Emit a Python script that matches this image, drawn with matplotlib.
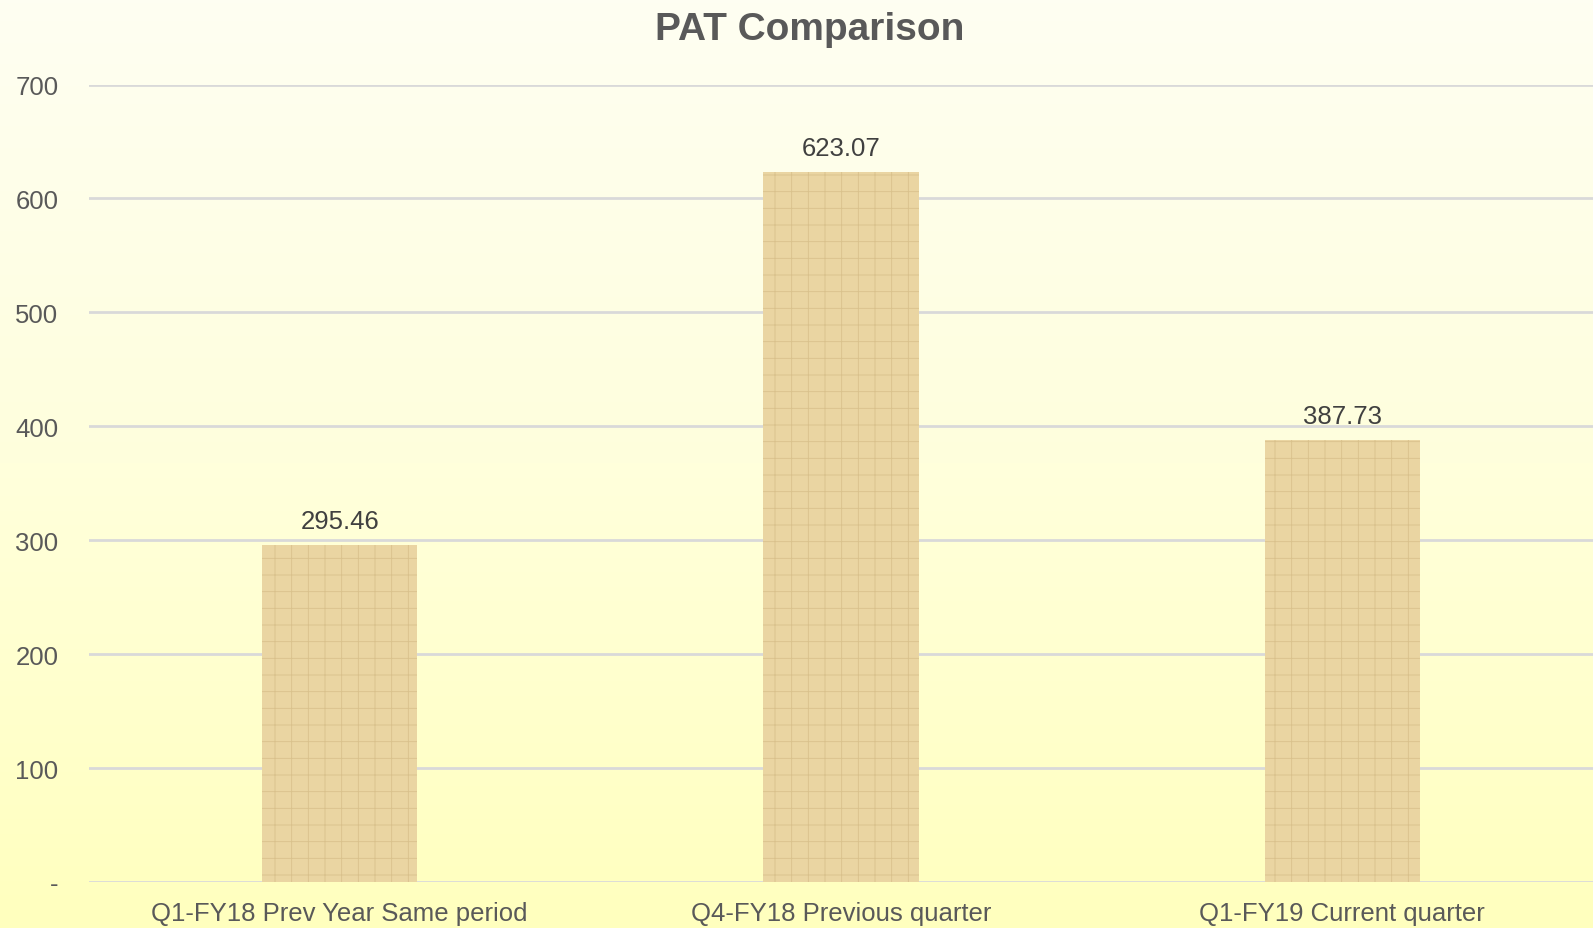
import matplotlib
matplotlib.use("Agg")
import matplotlib.pyplot as plt
import numpy as np
from matplotlib.colors import LinearSegmentedColormap

categories = ["Q1-FY18 Prev Year Same period", "Q4-FY18 Previous quarter", "Q1-FY19 Current quarter"]
values = [295.46, 623.07, 387.73]
yticks = [0, 100, 200, 300, 400, 500, 600, 700]
ytick_labels = ["-", "100", "200", "300", "400", "500", "600", "700"]

plt.rcParams['font.family'] = ['Liberation Sans', 'DejaVu Sans']
plt.rcParams['hatch.linewidth'] = 0.6

W, H = 1593, 929
fig = plt.figure(figsize=(W / 100, H / 100), dpi=100)

# background gradient
bg = fig.add_axes([0, 0, 1, 1], zorder=0)
cmap = LinearSegmentedColormap.from_list("bg", ["#FEFEF2", "#FFFFDC", "#FFFFBE"])
grad = np.linspace(0, 1, 256).reshape(-1, 1)
bg.imshow(grad, aspect='auto', cmap=cmap, extent=[0, 1, 0, 1], origin='upper')
bg.axis('off')

ax = fig.add_axes([89 / W, 1 - 883 / H, 1 - 89 / W, (883 - 85.5) / H], zorder=1)
ax.patch.set_alpha(0)

x = np.arange(len(categories))
bars = ax.bar(x, values, width=0.31, color="#EAD5A2", hatch="+",
              linewidth=0, zorder=3)
for b in bars:
    b.set_edgecolor("#D9C18C")

ax.set_xlim(-0.5, len(categories) - 0.5)
ax.set_ylim(0, 700)
ax.set_yticks(yticks)
ax.set_yticklabels(ytick_labels)
ax.yaxis.grid(True, color="#D9D9D9", linewidth=2, zorder=0)
ax.set_axisbelow(True)
for s in ax.spines.values():
    s.set_visible(False)
ax.tick_params(axis='both', length=0, labelsize=18.5, colors="#595959")
ax.tick_params(axis='y', pad=22)
ax.tick_params(axis='x', pad=14)
ax.set_xticks(x)
ax.set_xticklabels(categories)

for xi, v in zip(x, values):
    ax.annotate(f"{v:.2f}", (xi, v), xytext=(0, 9), textcoords="offset points",
                ha='center', va='bottom', fontsize=18.5, color="#404040")

fig.text(810 / W, 1 - 30 / H, "PAT Comparison", ha='center', va='center',
         fontsize=28, fontweight='bold', color="#595959")

fig.savefig("out.png", dpi=100)
